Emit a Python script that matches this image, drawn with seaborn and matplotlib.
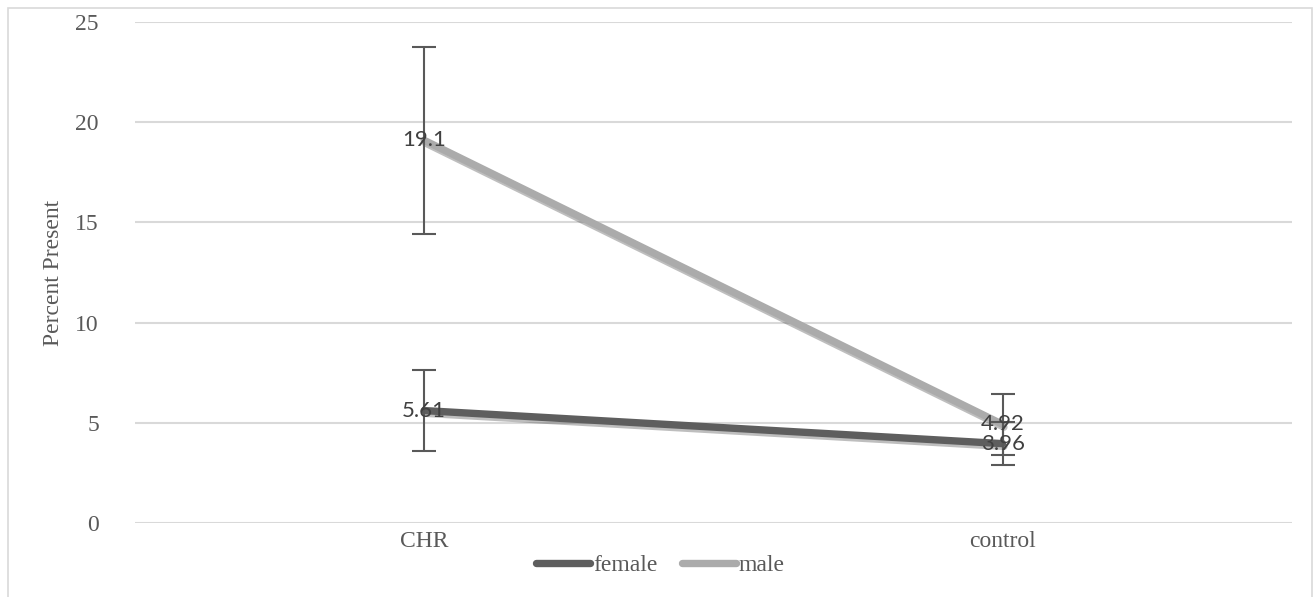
import numpy as np
import pandas as pd
import matplotlib
matplotlib.use("Agg")
import matplotlib.pyplot as plt
import matplotlib.patheffects as pe
from matplotlib.lines import Line2D
from matplotlib.patches import Rectangle
import seaborn as sns

groups = ["CHR", "control"]
series = ["female", "male"]
female_vals = [5.61, 3.96]
male_vals = [19.1, 4.92]
female_err = [2.02, 1.06]
male_err = [4.68, 1.51]
colors = {"female": "#5e5e5e", "male": "#ababab"}

df = pd.DataFrame({
    "group": groups * 2,
    "sex": ["female"] * 2 + ["male"] * 2,
    "value": female_vals + male_vals,
    "err": female_err + male_err,
})

sns.set_theme(style="white")
plt.rcParams["font.family"] = ["Liberation Serif", "DejaVu Serif"]

fig = plt.figure(figsize=(13.13, 5.97), dpi=100)
ax = fig.add_axes([0.1028, 0.124, 0.881, 0.839])

# light frame round the whole chart
fig.patches.append(Rectangle((8 / 1313, -0.01), 1304 / 1313, 1 - 8 / 597 + 0.01,
                             transform=fig.transFigure, fill=False,
                             edgecolor="#d9d9d9", linewidth=1.2))

shadow = [pe.SimpleLineShadow(offset=(1, -2), alpha=0.3, shadow_color="#2a2a2a"),
          pe.Normal()]

sns.lineplot(data=df, x="group", y="value", hue="sex", hue_order=series,
             palette=colors, linewidth=5.3, legend=False, ax=ax,
             path_effects=shadow, zorder=3, solid_capstyle="round")

xpos = {g: i for i, g in enumerate(groups)}
for _, row in df.iterrows():
    ax.errorbar(xpos[row["group"]], row["value"], yerr=row["err"], fmt="none",
                ecolor="#595959", elinewidth=1.5, capsize=8.5, capthick=1.5, zorder=4)

for _, row in df.iterrows():
    ax.text(xpos[row["group"]], row["value"], f"{row['value']:g}", ha="center", va="center",
            fontsize=16, color="#404040", family=["Lato", "DejaVu Sans"], zorder=5)

ax.set_xlim(-0.5, 1.5)
ax.set_ylim(0, 25)
ax.set_yticks(np.arange(0, 26, 5))
ax.yaxis.grid(True, color="#d9d9d9", linewidth=1.5)
ax.set_axisbelow(True)
for s in ax.spines.values():
    s.set_visible(False)
ax.tick_params(axis="both", length=0, labelsize=17, labelcolor="#595959")
ax.tick_params(axis="y", pad=26)
ax.tick_params(axis="x", pad=6)
ax.set_xlabel("")
ax.set_ylabel("Percent Present", fontsize=17, color="#595959", labelpad=8)

handles = [Line2D([0], [0], color=colors[s], linewidth=5.3, solid_capstyle="round")
           for s in series]
fig.legend(handles, series, loc="center", bbox_to_anchor=(0.503, 0.053), ncol=2,
           frameon=False, fontsize=17, labelcolor="#595959", handlelength=2.3,
           handletextpad=0.1, columnspacing=1.05)

fig.savefig("out.png", dpi=100, facecolor="white")
